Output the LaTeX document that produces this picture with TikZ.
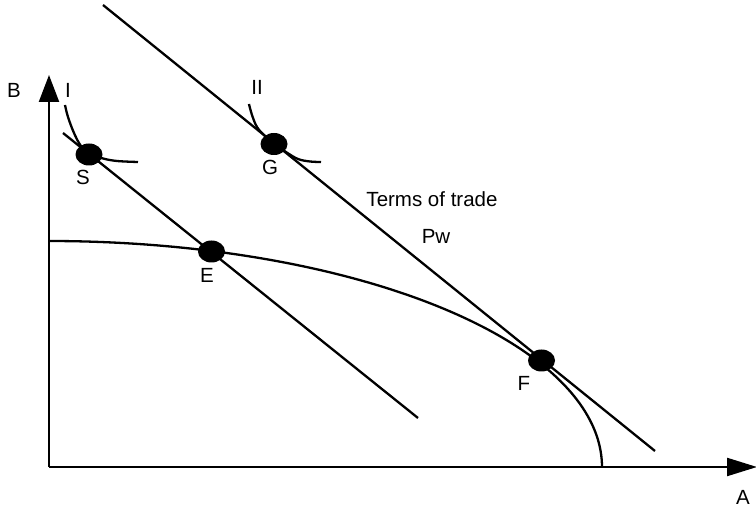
\documentclass[tikz,border=0pt]{standalone}
\usepackage{fontspec}
\setmainfont{Liberation Sans}
\usetikzlibrary{arrows.meta,shapes.geometric}
\begin{document}
\begin{tikzpicture}[x=1pt,y=-1pt,line width=2.3pt,
  dot/.style={ellipse,fill=black,draw=none,inner sep=0pt,minimum width=27pt,minimum height=22pt},
  lbl/.style={font=\fontsize{20.5}{24}\selectfont,inner sep=0pt}]
\useasboundingbox (0,0) rectangle (756,510);
% axes
\coordinate (O) at (49,467);
\coordinate (Btop) at (49,75);
\coordinate (Aend) at (757,467);
\draw[-{Triangle[length=27pt,width=20pt]}] (O) -- (Btop);
\draw[-{Triangle[length=30pt,width=18pt]}] (O) -- (Aend);
% production possibility frontier
\draw plot[domain=0:90,samples=90] ({49+553*cos(\x)},{467-226*sin(\x)});
% terms of trade line
\coordinate (T1) at (103,5);
\coordinate (T2) at (655,451);
\draw (T1) -- (T2);
% domestic price line
\coordinate (L1) at (63,133);
\coordinate (L2) at (418,418);
\draw (L1) -- (L2);
% indifference curves
\draw plot[smooth,tension=0.6] coordinates {(65,105) (68,117) (74,133) (81,146) (90,154) (103,158.5) (117,161) (138,162)};
\draw plot[smooth,tension=0.6] coordinates {(249,104) (252,115) (257,127) (265,136) (275,144) (286,152) (298,159) (310,161.5) (321,162)};
% points
\node[dot] (S) at (89,154.5) {};
\node[dot] (G) at (274,144) {};
\node[dot] (E) at (211.5,251.5) {};
\node[dot] (F) at (541.5,360.5) {};
% labels
\node[lbl] (lB) at (14,90) {B};
\node[lbl] (lI) at (68,90) {I};
\node[lbl] (lII) at (257,87) {II};
\node[lbl] (lS) at (83,177) {S};
\node[lbl] (lG) at (270,167) {G};
\node[lbl] (lE) at (207,275) {E};
\node[lbl] (lF) at (524,383) {F};
\node[lbl] (lT) at (432,199) {Terms of trade};
\node[lbl] (lP) at (436,236) {Pw};
\node[lbl] (lA) at (743,497) {A};
\end{tikzpicture}
\end{document}
